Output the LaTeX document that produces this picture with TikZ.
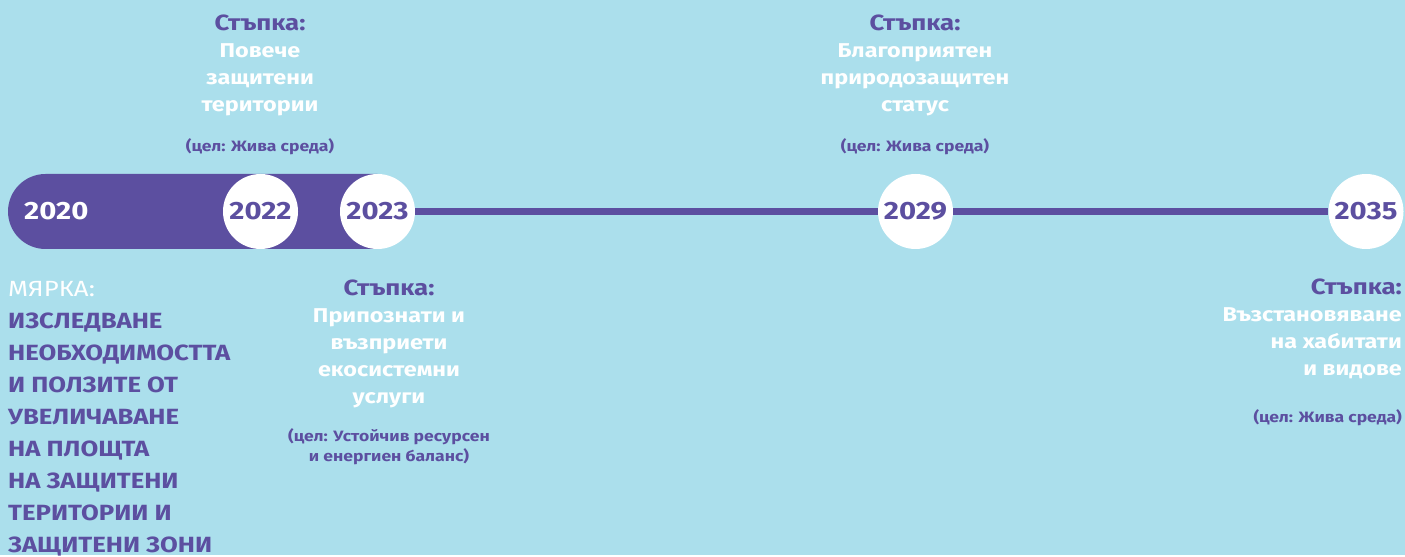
\documentclass[tikz,border=0pt]{standalone}
\usepackage{fontspec}
\setmainfont{Fira Sans}[Language=Bulgarian, FakeStretch=1.17]
\usetikzlibrary{positioning}
\definecolor{tlsky}{HTML}{ABDFEC}
\definecolor{tlpurple}{HTML}{5C4FA0}

\begin{document}
\begin{tikzpicture}[
	x=1pt, y=1pt,
	year/.style={circle, fill=white, minimum size=75pt, inner sep=0pt, text=tlpurple, font=\fontsize{25}{25}\selectfont\bfseries},
	head/.style={inner sep=0pt, text=tlpurple, font=\fontsize{22}{22}\selectfont\bfseries},
	stepbody/.style={inner sep=0pt, align=center, text=white, font=\fontsize{20}{27}\selectfont\bfseries},
	goal/.style={inner sep=0pt, align=center, text=tlpurple, font=\fontsize{15}{20}\selectfont\bfseries},
	link/.style={draw=tlpurple, line width=7pt}
	]
	\fill[tlsky] (0,0) rectangle (1405,555);
	% timeline
	\fill[tlpurple] (377.5,381) -- (45.5,381) arc[start angle=90, end angle=270, radius=37.5] -- (377.5,306) -- cycle;
	\node[anchor=west, inner sep=0pt, text=white, font=\fontsize{25}{25}\selectfont\bfseries] (y2020) at (24,343.5) {2020};
	\node[year] (y2022) at (260.5,343.5) {2022};
	\node[year] (y2023) at (377.5,343.5) {2023};
	\node[year] (y2029) at (915.5,343.5) {2029};
	\node[year] (y2035) at (1366,343.5) {2035};
	\draw[link] (y2023) -- (y2029);
	\draw[link] (y2029) -- (y2035);
	% steps above
	\node[head, anchor=base] (s1) at (260,524) {Стъпка:};
	\node[stepbody, below=12pt of s1] (s1t) {Повече\\защитени\\територии};
	\node[goal, below=22pt of s1t] (s1g) {(цел: Жива среда)};
	\node[head, anchor=base] (s2) at (915,524) {Стъпка:};
	\node[stepbody, below=12pt of s2] (s2t) {Благоприятен\\природозащитен\\статус};
	\node[goal, below=22pt of s2t] (s2g) {(цел: Жива среда)};
	% steps below
	\node[head, anchor=base] (s3) at (389,259) {Стъпка:};
	\node[stepbody, below=12pt of s3] (s3t) {Припознати и\\възприети\\екосистемни\\услуги};
	\node[goal, below=20pt of s3t] (s3g) {(цел: Устойчив ресурсен\\и енергиен баланс)};
	\node[head, anchor=base east] (s4) at (1402,260) {Стъпка:};
	\node[stepbody, align=right, below left=12pt and 0pt of s4.south east] (s4t) {Възстановяване\\на хабитати\\и видове};
	\node[goal, below left=30pt and 0pt of s4t.south east] (s4g) {(цел: Жива среда)};
	% measure
	\node[anchor=base west, inner sep=0pt, text=white, font=\fontsize{22}{22}\selectfont] (m) at (8,258) {МЯРКА:};
	\node[anchor=north west, inner sep=0pt, align=left, text=tlpurple, font=\fontsize{22}{32}\selectfont\bfseries] (mt) at (8,242) {ИЗСЛЕДВАНЕ\\НЕОБХОДИМОСТТА\\И ПОЛЗИТЕ ОТ\\УВЕЛИЧАВАНЕ\\НА ПЛОЩТА\\НА ЗАЩИТЕНИ\\ТЕРИТОРИИ И\\ЗАЩИТЕНИ ЗОНИ};
\end{tikzpicture}
\end{document}
